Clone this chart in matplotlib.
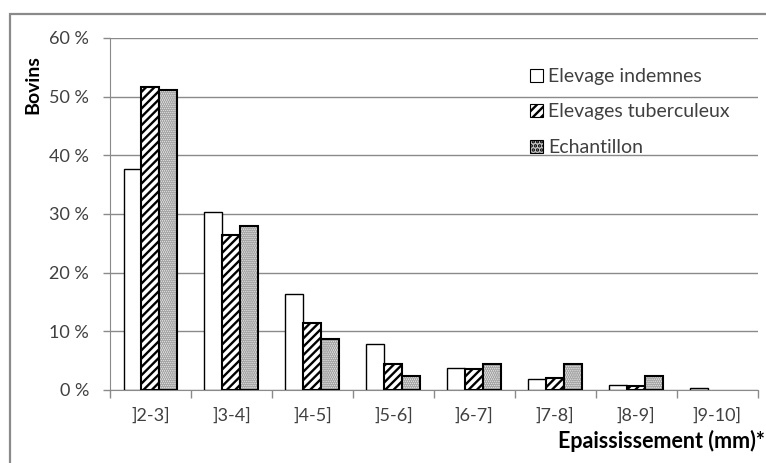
import numpy as np
import matplotlib.pyplot as plt
from matplotlib.patches import Patch, Rectangle

plt.rcParams['font.family'] = ['Lato', 'DejaVu Sans']
plt.rcParams['hatch.linewidth'] = 1.7

categories = [']2-3]', ']3-4]', ']4-5]', ']5-6]', ']6-7]', ']7-8]', ']8-9]', ']9-10]']
indemnes = [37.7, 30.4, 16.3, 7.9, 3.7, 1.8, 0.85, 0.4]
tuberculeux = [51.6, 26.5, 11.5, 4.4, 3.5, 2.1, 0.7, 0.0]
echantillon = [51.1, 27.9, 8.7, 2.3, 4.4, 4.4, 2.3, 0.0]
series_names = ['Elevage indemnes', 'Elevages tuberculeux', 'Echantillon']

grid_col = '#8a8a8a'
text_col = '#404040'

fig = plt.figure(figsize=(7.66, 4.63), dpi=100)
ax = fig.add_axes([0.1436, 0.1577, 0.8455, 0.7603])

x = np.arange(len(categories))
w = 0.222


def nonzero(vals):
    # empty bins get no bar at all (no outline on the baseline)
    vals = np.asarray(vals)
    keep = vals > 0
    return x[keep], vals[keep]


xi, vi = nonzero(indemnes)
ax.bar(xi - w, vi, w, facecolor='white', edgecolor='black', linewidth=1.0, zorder=3)

xt, vt = nonzero(tuberculeux)
ax.bar(xt, vt, w, facecolor='white', edgecolor='black', hatch='////', linewidth=1.5, zorder=3)

xe, ve = nonzero(echantillon)
ax.bar(xe + w, ve, w, facecolor='#e2e2e2', edgecolor='#a6a6a6', hatch='........', linewidth=0, zorder=3)
ax.bar(xe + w, ve, w, facecolor='none', edgecolor='black', linewidth=1.5, zorder=4)

ax.set_xlim(-0.5, len(categories) - 0.5)
ax.set_ylim(0, 60)
ax.set_yticks(np.arange(0, 61, 10))
ax.set_yticklabels([f'{v} %' for v in range(0, 61, 10)], fontsize=13, color=text_col)
ax.set_xticks(np.arange(-0.5, len(categories), 1.0))
ax.set_xticklabels([])
ax.set_xticks(x, minor=True)
ax.set_xticklabels(categories, minor=True, fontsize=13, color=text_col)
ax.tick_params(axis='x', which='major', length=6, color=grid_col, width=1)
ax.tick_params(axis='x', which='minor', length=0, pad=13)
ax.tick_params(axis='y', length=5, color=grid_col, width=1, pad=10)

ax.grid(axis='y', color=grid_col, linewidth=1, zorder=0)
for side in ['top', 'right']:
    ax.spines[side].set_visible(False)
ax.spines['left'].set_color(grid_col)
ax.spines['bottom'].set_color(grid_col)

fig.text(33 / 766, 1 - 85 / 463, 'Bovins', rotation=90, ha='center', va='center',
         fontsize=14, fontweight='bold', color='black')
fig.text(0.998, 1 - 448 / 463, 'Epaississement (mm)*', ha='right', va='baseline',
         fontsize=15.5, fontweight='bold', color='black')

handles = [
    Patch(facecolor='white', edgecolor='black', linewidth=0.8),
    Patch(facecolor='white', edgecolor='black', hatch='////', linewidth=0.8),
    Patch(facecolor='#c4c4c4', edgecolor='black', hatch='....', linewidth=0.8),
]
leg = ax.legend(handles, series_names, loc='upper left',
                bbox_to_anchor=(530 / 766, 1 - 68 / 463), bbox_transform=fig.transFigure,
                frameon=False, fontsize=14, handlelength=0.65, handleheight=0.65,
                handletextpad=0.3, labelspacing=0.95, borderpad=0, borderaxespad=0)
for t in leg.get_texts():
    t.set_color(text_col)

# outer chart border (only left and top visible in the crop)
fig.patches.append(Rectangle((10 / 766, -0.1), 1.2, 1 - 14 / 463 + 0.1,
                             transform=fig.transFigure, fill=False,
                             edgecolor='#8a8a8a', linewidth=1.6))

fig.savefig('out.png', dpi=100)
